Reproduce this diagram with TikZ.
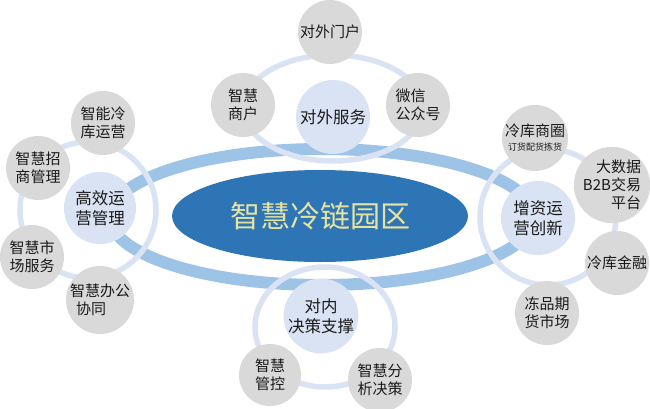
\documentclass[tikz,border=0pt]{standalone}
\usepackage{fontspec}
\setmainfont{Noto Sans CJK SC}
\usetikzlibrary{positioning, shapes.geometric}
\definecolor{bandblue}{RGB}{157,195,230}
\definecolor{coreblue}{RGB}{46,117,182}
\definecolor{coretext}{RGB}{230,226,160}
\definecolor{paleblue}{RGB}{218,227,243}
\definecolor{satgrey}{RGB}{217,217,217}
\definecolor{ink}{RGB}{25,25,25}
\tikzset{
	sat/.style={circle, fill=satgrey, minimum size=64pt, inner sep=0pt, align=center, text=ink, font=\fontsize{15}{18}\selectfont},
	hub/.style={circle, fill=paleblue, minimum size=74pt, inner sep=0pt, align=center, text=ink, font=\fontsize{16.5}{20}\selectfont},
	ring/.style={draw=paleblue, line width=5.5pt},
	core/.style={ellipse, fill=coreblue, minimum width=296pt, minimum height=92pt, inner sep=0pt, text=coretext, font=\fontsize{30}{36}\selectfont}
}

\begin{document}
\begin{tikzpicture}[x=1pt, y=-1pt]
		      \useasboundingbox (0, 0) rectangle (650, 409);
		      \draw[bandblue, line width=12pt] (322, 217) ellipse (212pt and 68pt);
		      \node[core] (park) at (320, 216) {智慧冷链园区};
		      % rings over the band
		      \draw[ring] (333, 108) ellipse (90pt and 53pt);
		      \draw[ring] (88, 210) circle (68pt);
		      \draw[ring] (548, 217) circle (68pt);
		      \draw[ring] (325, 327) ellipse (70pt and 60pt);
		      % top
		      \node[hub] (serve) at (333, 117) {对外服务};
		      \node[sat] (portal) at (330, 32) {对外门户};
		      \node[sat] (shops) at (243, 105) {智慧\\商户};
		      \node[sat, align=left] (wechat) at (418, 105) {微信\\公众号};
		      % left
		      \node[hub, minimum size=72pt] (manage) at (100, 208) {高效运\\营管理};
		      \node[sat] (store) at (103, 123) {智能冷\\库运营};
		      \node[sat] (invest) at (38, 168) {智慧招\\商管理};
		      \node[sat] (market) at (32, 257) {智慧市\\场服务};
		      \node[sat, align=left] (office) at (100, 300) {智慧办公\\\hspace{6pt}协同};
		      % right
		      \node[hub] (grow) at (538, 218) {增资运\\营创新};
		      \node[sat] (circle) at (535, 138) {冷库商圈\\[-4pt]{\fontsize{9}{10}\selectfont 订货配货拣货}};
		      \node[sat, align=right] (data) at (612, 185) {大数据\\B2B交易\\平台\hspace{6pt}};
		      \node[sat] (finance) at (617, 263) {冷库金融};
		      \node[sat] (futures) at (547, 313) {冻品期\\货市场};
		      % bottom
		      \node[hub, minimum size=68pt] (decide) at (321, 316) {对内\\决策支撑};
		      \node[sat, minimum size=62pt] (control) at (270, 375) {智慧\\管控};
		      \node[sat] (analyse) at (380, 380) {智慧分\\析决策};
	      \end{tikzpicture}
\end{document}
